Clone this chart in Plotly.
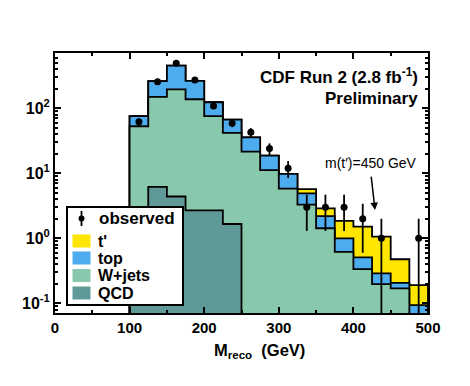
import numpy as np
import plotly.graph_objects as go

# histogram binning (GeV)
bin_edges = [100, 125, 150, 175, 200, 225, 250, 275, 300, 325, 350, 375, 400, 425, 450, 475, 500]
bin_centers = [112.5, 137.5, 162.5, 187.5, 212.5, 237.5, 262.5, 287.5, 312.5, 337.5, 362.5, 387.5, 412.5, 437.5, 462.5, 487.5]

# expected events per bin, per process (stacked in this order)
qcd = [1.0, 6.2, 4.4, 2.7, 2.7, 1.66, 0, 0, 0, 0, 0, 0, 0, 0, 0, 0]
wjets = [52, 143.8, 191.6, 135.3, 73.3, 40.3, 21.5, 11.2, 5.8, 3.3, 1.43, 0.62, 0.337, 0.198, 0.17, 0.04]
top = [23, 112, 257, 127, 48, 25, 14.3, 7.5, 4.0, 1.6, 0.77, 0.38, 0.173, 0.092, 0.037, 0.054]
tprime = [0, 0, 0, 0, 0, 0, 0, 0, 0, 0.8, 0.7, 0.85, 1.0, 0.77, 0.27, 0.096]

# observed data
observed = [62, 257, 493, 273, 109, 59, 43, 24, 12, 3, 3, 3, 2, 1, None, 1]
observed_err = [7.9, 16.0, 22.2, 16.5, 10.4, 7.7, 6.6, 4.9, 3.5, 1.7, 1.7, 1.7, 1.4, 1.0, None, 1.0]

y_ticks = [0.1, 1, 10, 100]
y_ticktext = ["10<sup>-1</sup>", "10<sup>0</sup>", "10<sup>1</sup>", "10<sup>2</sup>"]

COLORS = {
    "tprime": "#FFE600",
    "top": "#4DACEE",
    "wjets": "#88C8AD",
    "qcd": "#5F9A99",
}
FLOOR = 1e-3
FONT = "Liberation Sans"

# window size and plot area in window pixels; the page body adds an 8px margin
W, H = 470, 386
BODY = 8
X0, X1, Y0, Y1 = 55, 428, 53, 313


def px(x):
    return (x - X0) / (X1 - X0)


def py(y):
    return (Y1 - y) / (Y1 - Y0)


def step_polygon(values):
    """Contour of a stacked histogram layer, closed down below the axis."""
    vals = np.where(np.asarray(values, dtype=float) > 0, values, FLOOR)
    xs = np.repeat(bin_edges, 2)[1:-1]
    ys = np.repeat(vals, 2)
    xs = np.concatenate([[bin_edges[0]], xs, [bin_edges[-1]]])
    ys = np.concatenate([[FLOOR], ys, [FLOOR]])
    return xs, ys


# cumulative stacks
cum_qcd = np.array(qcd, dtype=float)
cum_wjets = cum_qcd + np.array(wjets)
cum_top = cum_wjets + np.array(top)
cum_tprime = cum_top + np.array(tprime)

fig = go.Figure()

for name, layer in [("tprime", cum_tprime), ("top", cum_top), ("wjets", cum_wjets), ("qcd", cum_qcd)]:
    xs, ys = step_polygon(layer)
    fig.add_trace(go.Scatter(
        x=xs, y=ys, mode="lines", fill="toself",
        fillcolor=COLORS[name],
        line=dict(color="black", width=1.8),
        hoverinfo="skip", showlegend=False,
    ))

fig.add_trace(go.Scatter(
    x=bin_centers, y=observed, mode="markers",
    marker=dict(color="black", size=7),
    error_y=dict(type="data", array=observed_err, color="black", thickness=1.8, width=0),
    showlegend=False,
))

fig.update_xaxes(
    range=[0, 500], dtick=100, tick0=0,
    ticks="inside", ticklen=6, tickwidth=1.5, tickcolor="black",
    minor=dict(dtick=50, ticks="inside", ticklen=3, tickcolor="black"),
    showline=True, linewidth=2, linecolor="black", mirror="ticks",
    showgrid=False, zeroline=False,
    tickfont=dict(family=FONT, size=15, color="black", weight="bold"),
)
fig.update_yaxes(
    type="log", range=[np.log10(0.071), np.log10(710)],
    tickmode="array", tickvals=y_ticks, ticktext=y_ticktext,
    ticks="inside", ticklen=6, tickwidth=1.5, tickcolor="black",
    minor=dict(tickvals=[m * 10 ** e for e in range(-2, 3) for m in range(2, 10)],
               ticks="inside", ticklen=3, tickcolor="black"),
    showline=True, linewidth=2, linecolor="black", mirror="ticks",
    showgrid=False, zeroline=False,
    tickfont=dict(family=FONT, size=16, color="black", weight="bold"),
)

annotations = [
    dict(x=px(420), y=py(76), text="CDF Run 2 (2.8 fb<sup>-1</sup>)", xanchor="right",
         font=dict(size=17, weight="bold")),
    dict(x=px(420), y=py(98), text="Preliminary", xanchor="right",
         font=dict(size=17, weight="bold")),
    dict(x=px(371), y=py(163), text="m(t\u2032)=450 GeV", xanchor="center",
         font=dict(size=14)),
    dict(x=px(259), y=py(351), text="M<sub>reco</sub>  (GeV)", xanchor="center",
         font=dict(size=16.5, weight="bold")),
]
for a in annotations:
    a.update(xref="paper", yref="paper", yanchor="middle", showarrow=False)
    a["font"] = dict(family=FONT, color="black", **a["font"])

# arrow pointing at the t' signal
annotations.append(dict(
    x=429, y=np.log10(2.72), xref="x", yref="y", ax=-4, ay=-35,
    showarrow=True, arrowhead=2, arrowsize=1, arrowwidth=1.5, arrowcolor="black", text="",
))

# hand-drawn legend box
shapes = [dict(type="rect", xref="paper", yref="paper",
               x0=px(67), x1=px(183), y0=py(305), y1=py(207),
               fillcolor="white", line=dict(color="black", width=2), layer="above")]
shapes.append(dict(type="line", xref="paper", yref="paper",
                   x0=px(81.5), x1=px(81.5), y0=py(226), y1=py(211),
                   line=dict(color="black", width=1.8), layer="above"))
shapes.append(dict(type="circle", xref="paper", yref="paper",
                   x0=px(78.5), x1=px(84.5), y0=py(221.5), y1=py(215.5),
                   fillcolor="black", line=dict(color="black", width=0), layer="above"))
annotations.append(dict(x=px(97), y=py(218), xref="paper", yref="paper", text="observed",
                        xanchor="left", yanchor="middle", showarrow=False,
                        font=dict(family=FONT, size=17, color="black", weight="bold")))

legend_rows = [("tprime", "t'", 241), ("top", "top", 258), ("wjets", "W+jets", 275.5), ("qcd", "QCD", 293)]
for key, label, yc in legend_rows:
    shapes.append(dict(type="rect", xref="paper", yref="paper",
                       x0=px(72.5), x1=px(90.5), y0=py(yc + 6.5), y1=py(yc - 6.5),
                       fillcolor=COLORS[key], line=dict(width=0), layer="above"))
    annotations.append(dict(x=px(96), y=py(yc), xref="paper", yref="paper", text=label,
                            xanchor="left", yanchor="middle", showarrow=False,
                            font=dict(family=FONT, size=16, color="black", weight="bold")))

fig.update_layout(
    width=W - BODY, height=H - BODY,
    margin=dict(l=X0 - BODY, r=W - X1, t=Y0 - BODY, b=H - Y1, autoexpand=False),
    paper_bgcolor="white", plot_bgcolor="white",
    font=dict(family=FONT, color="black"),
    annotations=annotations, shapes=shapes,
    showlegend=False,
)

fig.write_html("out.html")
